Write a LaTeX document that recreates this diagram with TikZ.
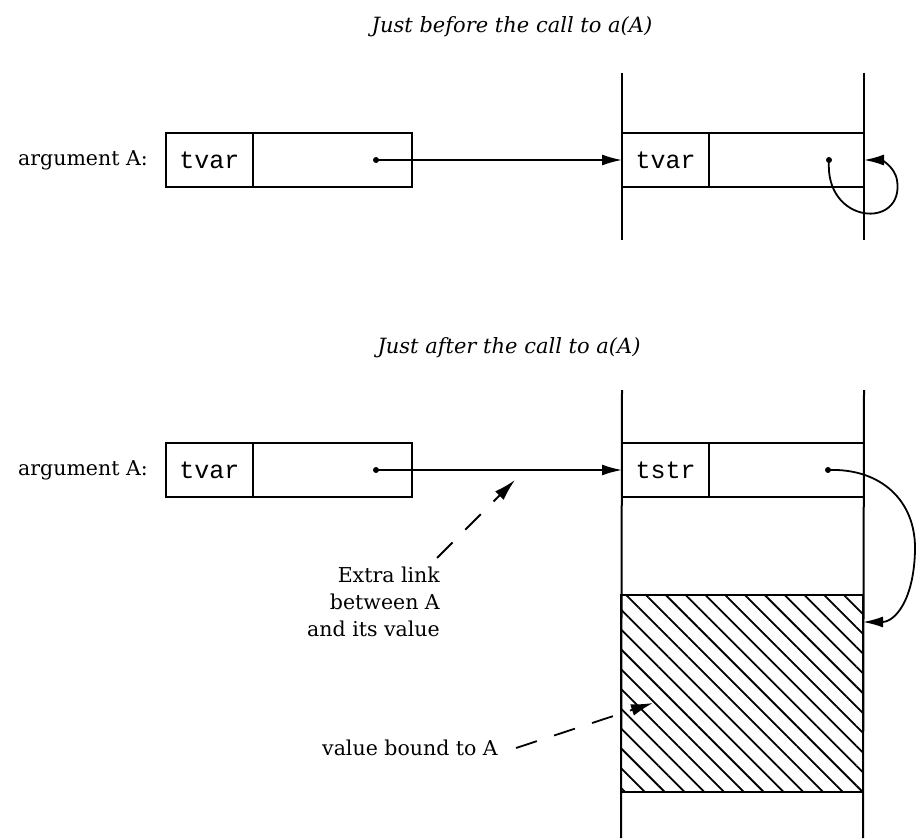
\documentclass[tikz,border=0pt]{standalone}
\usepackage{fontspec}
\setmainfont{DejaVu Serif}
\setmonofont{Liberation Mono}
\usetikzlibrary{arrows.meta,positioning,patterns.meta}

\begin{document}
\begin{tikzpicture}[
  x=1pt, y=-1pt,
  heading/.style={font=\fontsize{21}{25}\selectfont\itshape},
  note/.style={font=\fontsize{20.5}{27}\selectfont, inner sep=0pt},
  tagcell/.style={draw, line width=2pt, outer sep=0pt, inner sep=0pt, minimum width=87pt, minimum height=54pt, font=\fontsize{25}{25}\selectfont\ttfamily},
  valcell/.style={draw, line width=2pt, outer sep=0pt, minimum width=159pt, minimum height=54pt},
  boundbox/.style={draw, line width=2.2pt, outer sep=0pt, minimum width=242pt, minimum height=197pt, pattern={Lines[angle=-45,distance=14pt,line width=1.8pt]}},
  wall/.style={line width=2pt},
  dot/.style={circle, fill, inner sep=0pt, minimum size=6pt},
  ptr/.style={-{Latex[length=20pt,width=11pt]}, line width=1.8pt},
  hint/.style={-{Latex[length=22pt,width=12pt]}, line width=1.8pt, dash pattern=on 22pt off 18pt}
]
\useasboundingbox (0,0) rectangle (918,840);

% before the call
\node[heading] (before) at (512,27) {Just before the call to a(A)};
\node[tagcell] (argtag) at (209.5,160) {tvar};
\node[valcell, right=0pt of argtag] (argval) {};
\node[note, left=18pt of argtag] (arglab) {argument A:};
\node[tagcell] (ftag) at (665.5,160) {tvar};
\node[valcell, minimum width=155pt, right=0pt of ftag] (fval) {};
\draw[wall] ([yshift=60pt]ftag.north west) -- ([yshift=-53pt]ftag.south west);
\draw[wall] ([yshift=60pt]fval.north east) -- ([yshift=-53pt]fval.south east);
\node[dot] (argptr) at ([xshift=-36pt]argval.east) {};
\node[dot] (selfptr) at ([xshift=-35pt]fval.east) {};
\draw[ptr] (argptr.center) -- (ftag.west);
\draw[ptr] (selfptr.center) .. controls (824,225) and (905,230) .. (897,180) .. controls (894,165) and (880,160) .. (fval.east);

% after the call
\node[heading] (after) at (509,348) {Just after the call to a(A)};
\node[tagcell] (argtag2) at (209.5,470) {tvar};
\node[valcell, right=0pt of argtag2] (argval2) {};
\node[note, left=18pt of argtag2] (arglab2) {argument A:};
\node[tagcell] (ftag2) at (665.5,470) {tstr};
\node[valcell, minimum width=155pt, right=0pt of ftag2] (fval2) {};
\node[boundbox, anchor=north west] (bound) at (621,595) {};
\draw[wall] ([yshift=53pt]ftag2.north west) -- ([yshift=-46pt]bound.south west);
\draw[wall] ([yshift=53pt]fval2.north east) -- ([yshift=-46pt]bound.south east);
\node[dot] (argptr2) at ([xshift=-36pt]argval2.east) {};
\node[dot] (strptr) at ([xshift=-36pt]fval2.east) {};
\draw[ptr] (argptr2.center) -- (ftag2.west);
\draw[ptr] (strptr.center) .. controls (880,468) and (916,500) .. (915,550) .. controls (914,600) and (895,622) .. ([yshift=-27pt]bound.north east);

% notes
\node[note, align=right, anchor=north east] (extra) at (440,567) {Extra link\\between A\\and its value};
\coordinate (linkpt) at (515,480);
\draw[hint] ([xshift=-3pt,yshift=9pt]extra.north east) -- (linkpt);
\node[note] (boundlab) at (410,748) {value bound to A};
\coordinate (boundpt) at (653,703);
\draw[hint] ([xshift=18pt]boundlab.east) -- (boundpt);
\end{tikzpicture}
\end{document}
